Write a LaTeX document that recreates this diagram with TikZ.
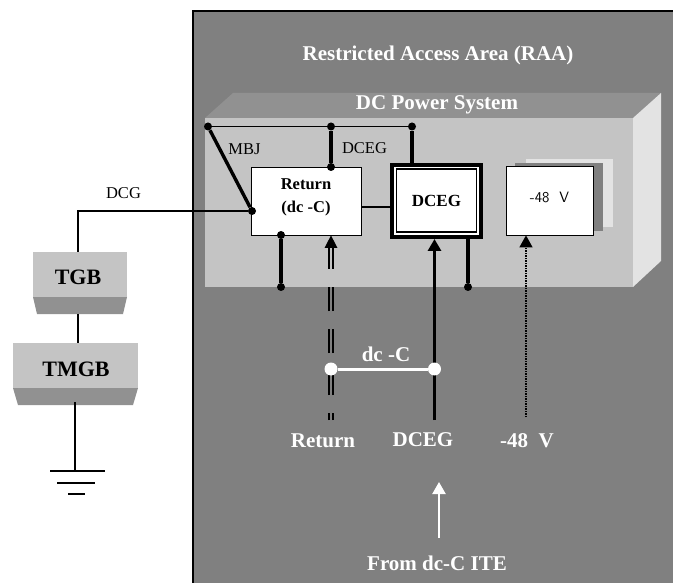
\documentclass[tikz,border=0pt]{standalone}
\usepackage{fontspec}
\setmainfont{Liberation Serif}
\usetikzlibrary{arrows.meta}
\begin{document}
\begin{tikzpicture}[x=1pt,y=-1pt,
box/.style={draw,line width=0.8pt,fill=white,inner sep=0pt},
bar/.style={fill=barlight,inner sep=0pt},
barlabel/.style={font=\fontsize{22}{24}\selectfont\bfseries},
dot/.style={circle,fill=black,minimum size=8pt,inner sep=0pt},
ring/.style={circle,fill=white,minimum size=13pt,inner sep=0pt},
wire/.style={line width=1.8pt},
heavy/.style={line width=3.4pt},
tip/.style={-{Triangle[length=12pt,width=13pt]}},
rail/.style={line width=2.3pt,dash pattern=on 7pt off 18pt on 24pt off 18pt on 24pt off 18pt on 24pt off 18pt on 33pt},
whitelabel/.style={text=white,font=\fontsize{21}{24}\selectfont\bfseries},
blacklabel/.style={font=\fontsize{16.5}{18}\selectfont}]
\definecolor{barlight}{gray}{0.77}
\definecolor{bardark}{gray}{0.57}
\useasboundingbox (0,0) rectangle (673,583);
\fill[white] (0,0) rectangle (673,583);
% restricted area
\fill[black!50] (193,11) rectangle (673,583);
\draw[line width=2pt] (193,583) -- (193,11) -- (673,11);
% power system cabinet
\fill[bardark] (205,118) -- (233,93) -- (661,93) -- (633,118) -- cycle;
\fill[black!11] (633,118) -- (661,93) -- (661,261) -- (633,287) -- cycle;
\fill[barlight] (205,118) rectangle (633,287);
\fill[black!11] (526,159) rectangle (613,227);
\fill[black!50] (515,163) rectangle (603,231);
\node[whitelabel] (raa) at (438,55) {Restricted Access Area (RAA)};
\node[whitelabel] (dcps) at (437,105) {DC Power System};
% boxes
\node[box,minimum width=110pt,minimum height=68pt] (ret) at (306,201) {};
\node[align=center,font=\fontsize{16.5}{23}\selectfont\bfseries,yshift=3.5pt] (retlab) at (ret) {Return\\(dc -C)};
\node[box,line width=4pt,minimum width=89pt,minimum height=72pt] (deg) at (436.5,201) {};
\node[box,line width=1.5pt,minimum width=80pt,minimum height=63pt,font=\fontsize{17}{19}\selectfont\bfseries] (dceg) at (436.5,200.5) {DCEG};
\node[box,minimum width=87pt,minimum height=69pt] (neg) at (549.5,200.5) {};
\node[font=\fontsize{15}{17}\selectfont\sffamily,yshift=3.5pt] (neglab) at (neg) {-48\ \ V};
\node[blacklabel] (mbj) at (244.5,149) {MBJ};
\node[blacklabel] (dcegt) at (364.5,148) {DCEG};
\node[blacklabel] (dcg) at (123.5,193) {DCG};
% bonding dots
\node[dot] (a) at (208,126.5) {};
\node[dot] (b) at (331,126.5) {};
\node[dot] (c) at (412,126.5) {};
\node[dot] (d) at (331,167) {};
\node[dot] (e) at (252,211) {};
\node[dot] (f) at (281,235) {};
\node[dot] (g) at (281,287) {};
\node[dot] (h) at (468,287) {};
\coordinate (i) at (412,163);
\coordinate (j) at (468,239);
\coordinate (k) at (78,252);
\draw[wire] (a) -- (c);
\draw[heavy] (a) -- (e);
\draw[heavy] (b) -- (d);
\draw[heavy] (c) -- (i);
\draw[heavy] (f) -- (g);
\draw[heavy] (j) -- (h);
\draw[wire] (ret.east |- 0,207) -- (deg.west |- 0,207);
% ground bars
\fill[bardark] (33,297) -- (127,297) -- (123,314) -- (37,314) -- cycle;
\node[bar,minimum width=94pt,minimum height=45pt] (tgb) at (80,274.5) {};
\node[barlabel] (tgblab) at (78,277) {TGB};
\fill[bardark] (13,388) -- (138,388) -- (133,405) -- (18,405) -- cycle;
\node[bar,minimum width=125pt,minimum height=45pt] (tmgb) at (75.5,365.5) {};
\node[barlabel] (tmgblab) at (76,369) {TMGB};
\coordinate (l) at (78,314);
\coordinate (m) at (75,402);
\coordinate (n) at (75,471);
\draw[wire] (e) -- (78,211) -- (k);
\draw[wire] (l) -- (78,343);
\draw[wire] (m) -- (n);
\draw[wire] (50,471) -- (105,471);
\draw[wire] (57,483) -- (95,483);
\draw[wire] (68,494) -- (85,494);
% feeds
\coordinate (rc) at (331,420);
\coordinate (rt) at (331,247);
\coordinate (dc) at (434.5,420);
\coordinate (nc) at (526,417);
\draw[rail] ([xshift=-2.3pt]rc) -- ([xshift=-2.3pt]rt);
\draw[rail] ([xshift=2.3pt]rc) -- ([xshift=2.3pt]rt);
\fill (ret.south -| rc) -- (337.5,248) -- (324.5,248) -- cycle;
\draw[heavy,tip] (dc) -- (deg.south -| dc);
\draw[line width=1.5pt,densely dotted,tip] (nc) -- (neg.south -| nc);
% dc-C link
\node[ring] (rl) at (331,369) {};
\node[ring] (dl) at (434.5,369) {};
\draw[line width=3pt,white] (rl) -- (dl);
\node[whitelabel] (dclab) at (386,354) {dc -C};
\node[whitelabel] (retout) at (323,441) {Return};
\node[whitelabel] (degout) at (423,440) {DCEG};
\node[whitelabel] (negout) at (527,441) {-48\ \ V};
\node[whitelabel] (ite) at (437,563) {From dc-C ITE};
\coordinate (wa) at (439,538);
\coordinate (wb) at (439,482);
\draw[white,line width=2.2pt,tip] (wa) -- (wb);
\end{tikzpicture}
\end{document}
